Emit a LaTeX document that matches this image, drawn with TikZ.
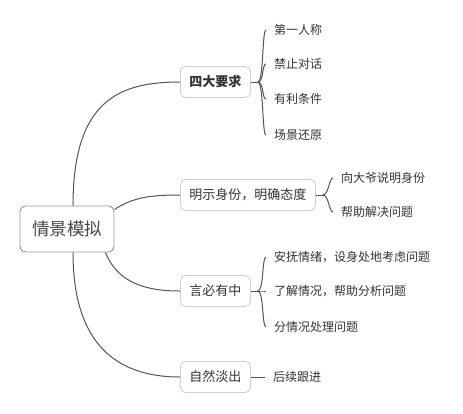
\documentclass[tikz,border=0pt]{standalone}
\usepackage{fontspec}
\setmainfont{Noto Sans CJK SC}
\definecolor{linec}{HTML}{555555}
\definecolor{txtc}{HTML}{333333}
\definecolor{boxc}{HTML}{CFCFCF}
\definecolor{rootc}{HTML}{9A9A9A}
\begin{document}
\begin{tikzpicture}[x=1pt,y=-1pt,
  conn/.style={draw=linec,line width=1pt},
  rootbox/.style={draw=rootc,line width=0.9pt,rounded corners=6pt,fill=white,
    text=txtc!90!white,font=\fontsize{17.5}{20}\selectfont,
    minimum width=94pt,minimum height=46pt,inner sep=0pt},
  branch/.style={draw=boxc,line width=0.8pt,rounded corners=5pt,fill=white,
    text=txtc,font=\fontsize{13}{15}\selectfont,anchor=west,
    minimum height=31pt,inner xsep=9pt,inner ysep=0pt},
  leaf/.style={text=txtc,font=\fontsize{12}{14}\selectfont,anchor=west,
    inner xsep=8pt,inner ysep=2pt}]
\useasboundingbox (0,0) rectangle (463,413);
% root
\node[rootbox] (root) at (67,229) {情景模拟};
% branches
\node[branch,font=\fontsize{13}{15}\selectfont\bfseries] (b1) at (180,82) {四大要求};
\node[branch] (b2) at (180,195) {明示身份，明确态度};
\node[branch] (b3) at (180,291) {言必有中};
\node[branch] (b4) at (180,377) {自然淡出};
% leaves
\node[leaf] (c11) at (266,30) {第一人称};
\node[leaf] (c12) at (266,64) {禁止对话};
\node[leaf] (c13) at (266,99) {有利条件};
\node[leaf] (c14) at (266,135) {场景还原};
\node[leaf] (c21) at (333,178) {向大爷说明身份};
\node[leaf] (c22) at (333,212) {帮助解决问题};
\node[leaf] (c31) at (266,257) {安抚情绪，设身处地考虑问题};
\node[leaf] (c32) at (266,291) {了解情况，帮助分析问题};
\node[leaf] (c33) at (266,327) {分情况处理问题};
\node[leaf] (c41) at (265,377) {后续跟进};
% root connectors
\draw[conn] ([xshift=6pt]root.north) .. controls +(0,-106) and +(-60,0) .. (b1.west);
\draw[conn] ([yshift=-4pt]root.north east) .. controls +(18,-12) and +(-30,0) .. (b2.west);
\draw[conn] ([xshift=-9pt]root.south east) .. controls +(12,30) and +(-35,0) .. (b3.west);
\draw[conn] ([xshift=6pt]root.south) .. controls +(0,90) and +(-65,0) .. (b4.west);
% brackets
\coordinate (j1) at ([xshift=7pt]b1.east);
\coordinate (j2) at ([xshift=7pt]b2.east);
\coordinate (j3) at ([xshift=7pt]b3.east);
\draw[conn] (b1.east) -- (j1);
\draw[conn] (b2.east) -- (j2);
\draw[conn] (b3.east) -- (j3);
\foreach \c in {c11,c12,c13,c14}
  \draw[conn] (j1) .. controls +(6,0) and +(-4,0) .. (\c.west);
\foreach \c in {c21,c22}
  \draw[conn] (j2) .. controls +(6,0) and +(-4,0) .. (\c.west);
\foreach \c in {c31,c32,c33}
  \draw[conn] (j3) .. controls +(6,0) and +(-4,0) .. (\c.west);
\draw[conn] (b4.east) -- (c41.west);
\end{tikzpicture}
\end{document}
